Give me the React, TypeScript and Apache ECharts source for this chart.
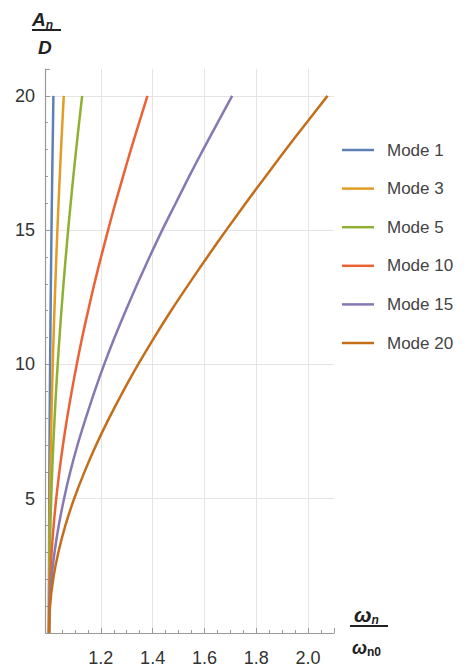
import React, { useEffect, useRef } from "react";
import * as echarts from "echarts";

// amplitude levels A_n / D (y axis)
const yLevels = [0, 1, 2, 3, 4, 5, 6, 7, 8, 9, 10, 11, 12, 13, 14, 15, 16, 17, 18, 19, 20];
// frequency ratio ω_n / ω_n0 at those levels
const mode1X = [1.0, 1.0, 1.0002, 1.0004, 1.0007, 1.0011, 1.0015, 1.0021, 1.0027, 1.0035, 1.0043, 1.0052, 1.0062, 1.0072, 1.0084, 1.0096, 1.011, 1.0124, 1.0139, 1.0155, 1.017];
const mode3X = [1.0, 1.0001, 1.0006, 1.0013, 1.0023, 1.0036, 1.0052, 1.0071, 1.0093, 1.0118, 1.0145, 1.0176, 1.0209, 1.0245, 1.0283, 1.0324, 1.0368, 1.0415, 1.0464, 1.0516, 1.057];
const mode5X = [1.0, 1.0003, 1.0014, 1.0031, 1.0054, 1.0085, 1.0122, 1.0165, 1.0216, 1.0272, 1.0335, 1.0404, 1.0479, 1.056, 1.0647, 1.0739, 1.0837, 1.094, 1.1048, 1.1162, 1.128];
const mode10X = [1.0, 1.0011, 1.0045, 1.0101, 1.0179, 1.0279, 1.0399, 1.0539, 1.0699, 1.0877, 1.107, 1.128, 1.151, 1.175, 1.201, 1.228, 1.256, 1.286, 1.316, 1.348, 1.38];
const mode15X = [1.0, 1.0024, 1.0095, 1.0213, 1.0376, 1.058, 1.082, 1.11, 1.142, 1.176, 1.213, 1.253, 1.296, 1.341, 1.388, 1.437, 1.489, 1.541, 1.595, 1.651, 1.707];
const mode20X = [1.0, 1.004, 1.016, 1.036, 1.063, 1.097, 1.137, 1.182, 1.232, 1.286, 1.344, 1.406, 1.471, 1.54, 1.611, 1.684, 1.759, 1.836, 1.914, 1.994, 2.075];

const seriesNames = ["Mode 1", "Mode 3", "Mode 5", "Mode 10", "Mode 15", "Mode 20"];
const seriesX = [mode1X, mode3X, mode5X, mode10X, mode15X, mode20X];
const colors = ["#5E81B5", "#E19C24", "#8FB032", "#EB6235", "#8778B3", "#C56E1A"];

const FONT = "'Liberation Sans', Arial, sans-serif";

export default function App() {
  const ref = useRef<HTMLDivElement>(null);
  useEffect(() => {
    if (!ref.current) return;
    const chart = echarts.init(ref.current, undefined, { renderer: "svg" });
    const series = seriesNames.map((name, i) => ({
      name,
      type: "line",
      data: yLevels.map((y, j) => [seriesX[i][j], y]),
      smooth: 0.33,
      symbol: "none",
      lineStyle: { width: 2.5, color: colors[i] },
      itemStyle: { color: colors[i] },
      z: 3,
    }));
    chart.setOption({
      animation: false,
      backgroundColor: "#ffffff",
      grid: { left: 49, top: 69, width: 285, height: 564, containLabel: false },
      xAxis: {
        type: "value",
        min: 1.0,
        max: 2.1,
        interval: 0.2,
        axisLine: { show: true, onZero: false, lineStyle: { color: "#999999", width: 1.2 } },
        axisTick: { show: true, inside: true, length: 5, lineStyle: { color: "#999999" } },
        minorTick: { show: true, splitNumber: 4, length: 3, lineStyle: { color: "#999999" } },
        axisLabel: {
          showMinLabel: false,
          showMaxLabel: false,
          margin: 16,
          fontSize: 18,
          fontFamily: FONT,
          color: "#333333",
          formatter: (v: number) => v.toFixed(1),
        },
        splitLine: { show: true, showMinLine: false, showMaxLine: false, lineStyle: { color: "#e4e4e4", width: 1 } },
      },
      yAxis: {
        type: "value",
        min: 0,
        max: 21,
        interval: 5,
        offset: 4,
        axisLine: { show: true, onZero: false, lineStyle: { color: "#999999", width: 1.2 } },
        axisTick: { show: true, inside: true, length: 5, lineStyle: { color: "#999999" } },
        minorTick: { show: true, splitNumber: 5, length: 3, lineStyle: { color: "#999999" } },
        axisLabel: {
          showMinLabel: false,
          showMaxLabel: false,
          margin: 10,
          fontSize: 18,
          fontFamily: FONT,
          color: "#333333",
        },
        splitLine: { show: true, showMinLine: false, showMaxLine: false, lineStyle: { color: "#e4e4e4", width: 1 } },
      },
      legend: {
        orient: "vertical",
        left: 337,
        top: 135,
        itemWidth: 32,
        itemHeight: 2.5,
        itemGap: 18.6,
        icon: "rect",
        data: seriesNames,
        textStyle: {
          fontSize: 17,
          fontFamily: FONT,
          color: "#444444",
          lineHeight: 20,
          padding: [0, 0, 0, 8],
        },
      },
      graphic: [
        {
          type: "text",
          left: 32,
          top: 10,
          style: {
            text: "{a|A}{s|n}",
            rich: {
              a: { fontSize: 19, fontWeight: "bold", fontStyle: "italic", fontFamily: FONT, fill: "#222" },
              s: { fontSize: 12, fontWeight: "bold", fontStyle: "italic", fontFamily: FONT, fill: "#222", padding: [10, 0, 0, 0] },
            },
          },
        },
        { type: "line", shape: { x1: 32, y1: 30, x2: 61, y2: 30 }, style: { stroke: "#222", lineWidth: 2 } },
        {
          type: "text",
          left: 38,
          top: 38,
          style: { text: "D", fontSize: 19, fontWeight: "bold", fontStyle: "italic", fontFamily: FONT, fill: "#222" },
        },
        {
          type: "text",
          left: 354,
          top: 604,
          style: {
            text: "{a|ω}{s|n}",
            rich: {
              a: { fontSize: 21, fontWeight: "bold", fontStyle: "italic", fontFamily: FONT, fill: "#222" },
              s: { fontSize: 12, fontWeight: "bold", fontStyle: "italic", fontFamily: FONT, fill: "#222", padding: [10, 0, 0, 0] },
            },
          },
        },
        { type: "line", shape: { x1: 350, y1: 626, x2: 388, y2: 626 }, style: { stroke: "#222", lineWidth: 2 } },
        {
          type: "text",
          left: 352,
          top: 639,
          style: {
            text: "{a|ω}{s|n0}",
            rich: {
              a: { fontSize: 18, fontWeight: "bold", fontStyle: "italic", fontFamily: FONT, fill: "#222" },
              s: { fontSize: 12, fontWeight: "bold", fontFamily: FONT, fill: "#222", padding: [8, 0, 0, 0] },
            },
          },
        },
      ],
      series,
    });
    return () => chart.dispose();
  }, []);
  return (
    <div
      ref={ref}
      style={{ position: "fixed", left: 0, top: 0, width: 471, height: 671, background: "#fff" }}
    />
  );
}
